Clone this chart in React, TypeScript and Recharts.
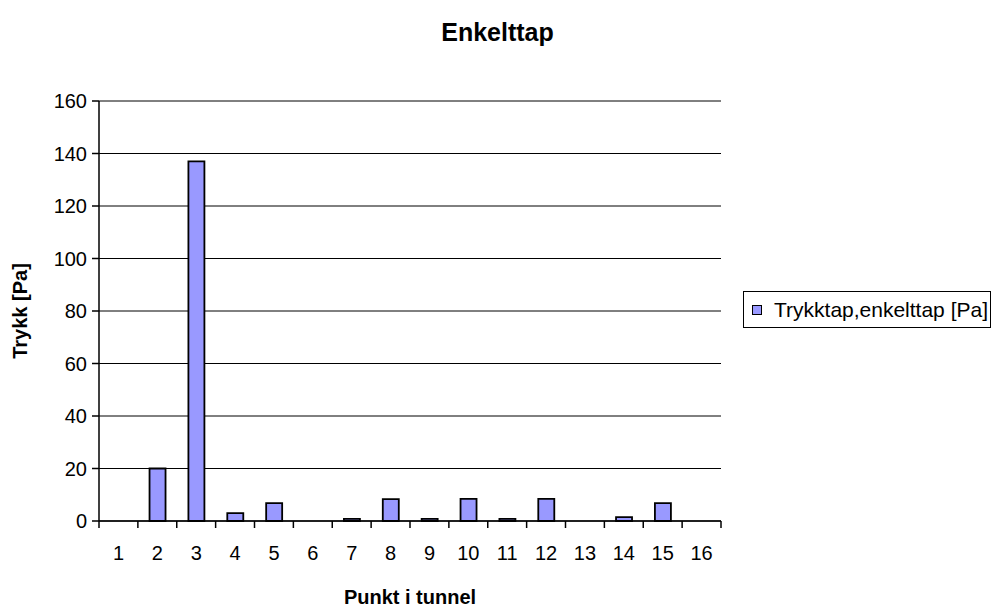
import React from "react";
import { ComposedChart, Bar, XAxis, YAxis, CartesianGrid, Legend } from "recharts";

const categories = ["1","2","3","4","5","6","7","8","9","10","11","12","13","14","15","16"];
const trykktap = [0, 20, 137, 3, 6.8, 0, 0.8, 8.3, 0.8, 8.4, 0.8, 8.4, 0, 1.5, 6.8, 0];
const yTicks = [0, 20, 40, 60, 80, 100, 120, 140, 160];
const seriesName = "Trykktap,enkelttap [Pa]";
const title = "Enkelttap";
const xTitle = "Punkt i tunnel";
const yTitle = "Trykk [Pa]";

const data = categories.map((c, i) => ({ cat: c, v: trykktap[i] }));

const W = 995;
const H = 608;
const PL = 99;
const PR = 721;
const PT = 101;
const PB = 521;
const BAND = (PR - PL) / categories.length;
const FONT = "'Liberation Sans', Arial, sans-serif";
const PURPLE = "#A07AA0";

const XTick = (props: any) => {
  const { x, payload, index } = props;
  const axisY = PB;
  const c = payload.coordinate;
  return (
    <g>
      <line x1={c - BAND / 2} x2={c - BAND / 2} y1={axisY} y2={axisY + 7} stroke="#000" strokeWidth={1.5} />
      {index === categories.length - 1 && (
        <line x1={c + BAND / 2} x2={c + BAND / 2} y1={axisY} y2={axisY + 7} stroke="#000" strokeWidth={1.5} />
      )}
      <text x={x} y={axisY + 39} textAnchor="middle" fontFamily={FONT} fontSize={20} fill="#000">
        {payload.value}
      </text>
    </g>
  );
};

const LegendContent = () => (
  <div
    style={{
      width: 248,
      height: 37,
      border: "1px solid #000",
      background: "#fff",
      boxSizing: "border-box",
      display: "flex",
      alignItems: "center",
      fontFamily: FONT,
      fontSize: 21,
      color: "#000",
      whiteSpace: "nowrap",
    }}
  >
    <span
      style={{
        display: "inline-block",
        width: 8,
        height: 8,
        background: "#9999FF",
        border: "1px solid #000",
        marginLeft: 8,
        marginRight: 12,
      }}
    />
    {seriesName}
  </div>
);

export default function App() {
  return (
    <div style={{ position: "absolute", left: 0, top: 0, width: W, height: H, background: "#fff" }}>
      <div
        style={{
          position: "absolute",
          left: 0,
          top: 17,
          width: W,
          textAlign: "center",
          fontFamily: FONT,
          fontWeight: "bold",
          fontSize: 25,
          lineHeight: "30px",
          color: "#000",
        }}
      >
        {title}
      </div>
      <ComposedChart
        width={W}
        height={H}
        data={data}
        margin={{ top: PT, right: W - PR, left: 0, bottom: 0 }}
        barCategoryGap="30%"
      >
        <CartesianGrid vertical={false} stroke="#000" strokeWidth={1} horizontalValues={yTicks} />
        <XAxis
          dataKey="cat"
          height={H - PB}
          tick={<XTick />}
          tickLine={false}
          axisLine={{ stroke: "#000", strokeWidth: 1.5 }}
          interval={0}
          label={{
            value: xTitle,
            position: "insideBottom",
            offset: 4,
            style: { fontFamily: FONT, fontSize: 20, fontWeight: "bold", fill: "#000" },
          }}
        />
        <XAxis
          xAxisId="top"
          dataKey="cat"
          orientation="top"
          height={0}
          tick={false}
          tickLine={false}
          axisLine={{ stroke: PURPLE, strokeWidth: 2 }}
        />
        <YAxis
          domain={[0, 160]}
          ticks={yTicks}
          interval={0}
          width={PL}
          tickSize={7}
          tickMargin={5}
          tickLine={{ stroke: "#000", strokeWidth: 1.5 }}
          axisLine={{ stroke: "#000", strokeWidth: 1.5 }}
          tick={{ fontFamily: FONT, fontSize: 20, fill: "#000" }}
          label={{
            value: yTitle,
            angle: -90,
            position: "insideLeft",
            offset: 0,
            dx: 20,
            style: { fontFamily: FONT, fontSize: 20, fontWeight: "bold", fill: "#000", textAnchor: "middle" },
          }}
        />
        <YAxis
          yAxisId="right"
          orientation="right"
          width={0}
          domain={[0, 160]}
          tick={false}
          tickLine={false}
          axisLine={{ stroke: PURPLE, strokeWidth: 2 }}
        />
        <Bar
          dataKey="v"
          name={seriesName}
          fill="#9999FF"
          stroke="#000"
          strokeWidth={1.8}
          isAnimationActive={false}
        />
        <Legend
          layout="vertical"
          align="center"
          verticalAlign="middle"
          content={<LegendContent />}
          wrapperStyle={{ left: 743, top: 291, width: 248 }}
        />
      </ComposedChart>
    </div>
  );
}
